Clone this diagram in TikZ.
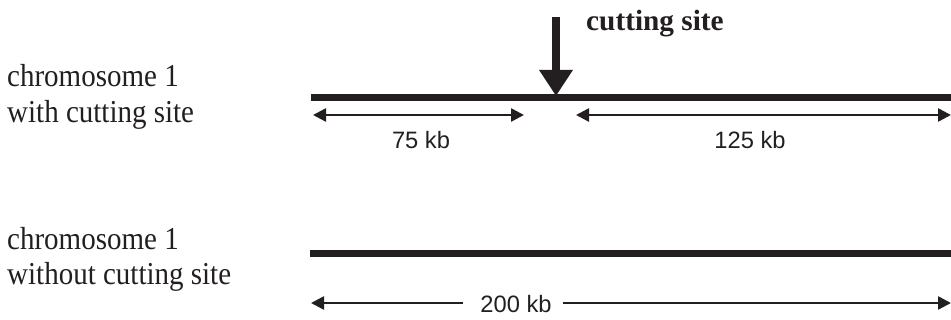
\documentclass[tikz,border=0pt]{standalone}
\usepackage{fontspec}
\setmainfont{Liberation Serif}
\setsansfont{Liberation Sans}
\usetikzlibrary{arrows.meta}
\definecolor{ink}{HTML}{231F20}
\newcommand{\tallser}[1]{\scalebox{1}[1.1]{#1}}
\tikzset{
  chromo/.style={line width=7pt, ink},
  dimline/.style={line width=2.5pt, ink, arrows={Triangle[length=13pt,width=13pt]-Triangle[length=13pt,width=13pt]}},
  halfdim/.style={line width=2.5pt, ink, -{Triangle[length=13pt,width=13pt]}},
  cutarrow/.style={line width=8pt, ink, -{Triangle[length=26pt,width=32pt]}},
  serlabel/.style={inner sep=0pt, anchor=base west, text=ink, font=\fontsize{29}{34}\selectfont},
  boldlabel/.style={inner sep=0pt, anchor=base west, text=ink, font=\fontsize{29.3}{34}\selectfont\bfseries},
  sizelabel/.style={inner sep=0pt, anchor=base, text=ink, font=\sffamily\fontsize{23.7}{28}\selectfont}
}
\begin{document}
\begin{tikzpicture}[x=1pt,y=-1pt]
\useasboundingbox (0,0) rectangle (951,320);
% left labels
\node[serlabel] (l1a) at (7,87) {\tallser{chromosome 1}};
\node[serlabel] (l1b) at (7,123) {\tallser{with cutting site}};
\node[serlabel] (l2a) at (7,250) {\tallser{chromosome 1}};
\node[serlabel] (l2b) at (7,285) {\tallser{without cutting site}};
% chromosome 1 with cutting site
\coordinate (c1s) at (311,98);
\coordinate (c1e) at (951,98);
\draw[chromo] (c1s) -- (c1e);
% cutting arrow
\coordinate (cutTop) at (556,17);
\coordinate (cutTip) at (556,96);
\draw[cutarrow] (cutTop) -- (cutTip);
\node[boldlabel] (cutlbl) at (586,31) {cutting site};
% dimension arrows
\coordinate (d1s) at (313,115);
\coordinate (d1e) at (524,115);
\draw[dimline] (d1s) -- (d1e);
\node[sizelabel] (kb75) at (421,149) {75 kb};
\coordinate (d2s) at (576,115);
\coordinate (d2e) at (951,115);
\draw[dimline] (d2s) -- (d2e);
\node[sizelabel] (kb125) at (750,149) {125 kb};
% chromosome 1 without cutting site
\coordinate (c2s) at (310,254);
\coordinate (c2e) at (951,254);
\draw[chromo] (c2s) -- (c2e);
\node[sizelabel] (kb200) at (516,313) {200 kb};
\coordinate (d3s) at (311,303);
\coordinate (d3e) at (951,303);
\coordinate (d3l) at (463,303);
\coordinate (d3r) at (563,303);
\draw[halfdim] (d3l) -- (d3s);
\draw[halfdim] (d3r) -- (d3e);
\end{tikzpicture}
\end{document}
